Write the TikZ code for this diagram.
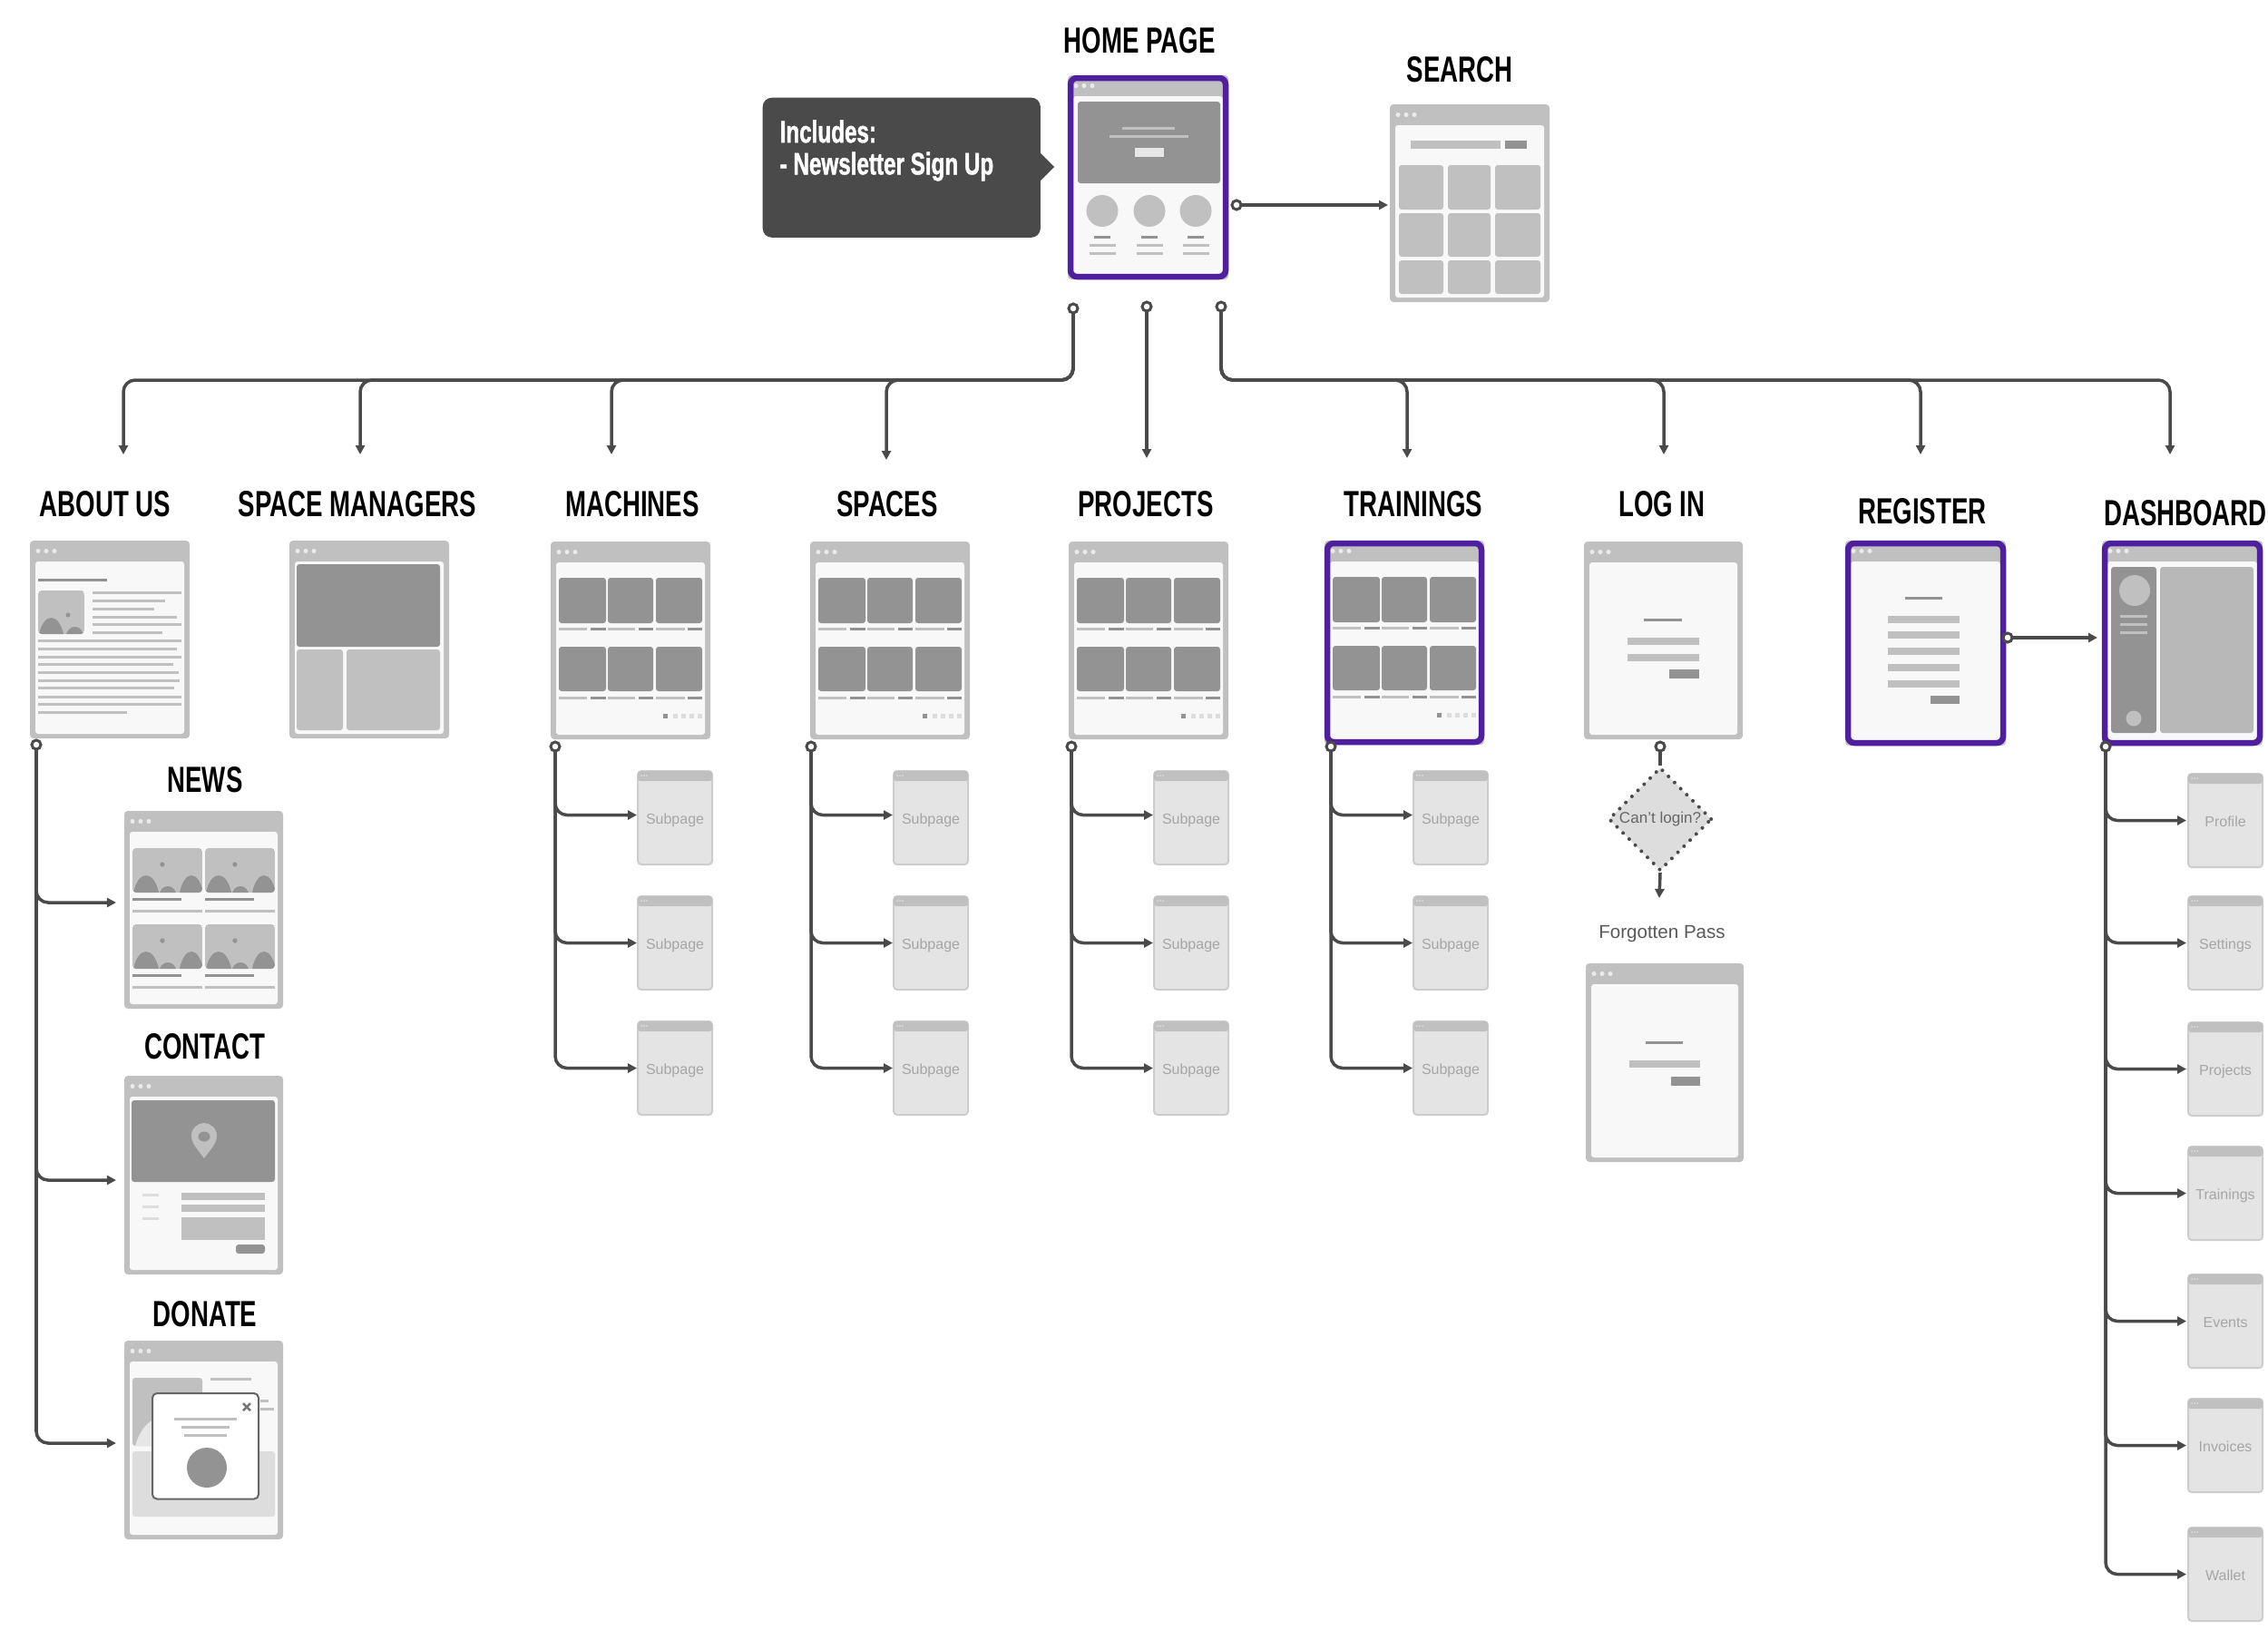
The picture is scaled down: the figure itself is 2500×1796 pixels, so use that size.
\documentclass[tikz,border=0pt]{standalone}
\usepackage{fontspec}
\setmainfont{Liberation Sans}
\newfontfamily\headfont[FakeStretch=0.69]{Liberation Sans}
\newfontfamily\notefont[FakeStretch=0.71,FakeBold=1.2]{Liberation Sans}
\usetikzlibrary{arrows.meta,shapes.geometric}
\definecolor{cf}{HTML}{C0C0C0}
\definecolor{cc}{HTML}{F8F8F8}
\definecolor{cd}{HTML}{939393}
\definecolor{cs}{HTML}{E4E4E4}
\definecolor{cl}{HTML}{DDDDDD}
\definecolor{cw}{HTML}{4A4A4A}
\definecolor{cp}{HTML}{4F1F9E}
\newcommand{\wbox}[5]{\fill[#5,rounded corners=.03cm] (#1,#2) rectangle (#3,#4);}
\newcommand{\wsq}[5]{\fill[#5] (#1,#2) rectangle (#3,#4);}
\newcommand{\wl}[4]{\fill[#4] ({#1},{#3-1.5}) rectangle ({#2},{#3+1.5});}
\newcommand{\hump}[4]{\fill[cd] ({#1},{#3}) .. controls ({#1+0.2*(#2-#1)},{#3-1.33*#4}) and ({#2-0.2*(#2-#1)},{#3-1.33*#4}) .. ({#2},{#3}) -- cycle;}
% window: name, x, y, w, h, content
\newcommand{\win}[6]{%
  \node[winf,anchor=north west,minimum width=#4*.01cm,minimum height=#5*.01cm] (#1) at (#2,#3) {};
  \begin{scope}[shift={(#2,#3)}]
    \wbox{6}{23}{{#4-6}}{{#5-5}}{cc}
    \foreach \dx in {9,18,27} {\fill[cl!60!white] (\dx,11.5) circle [radius=2.5];}
    #6
  \end{scope}}
% subpage: name, x, y, label
\newcommand{\subp}[4]{%
  \node[subf,anchor=north west] (#1) at (#2,#3) {\raisebox{-.07cm}[0pt][0pt]{\fontsize{4.55}{5}\selectfont\textcolor{black!35}{#4}}};
  \begin{scope}[shift={(#2,#3)}]
    \fill[cf,rounded corners=.03cm] (0,0) rectangle (82,11);
    \foreach \dx in {4,7,10} {\fill[cl] (\dx,5) circle [radius=1];}
  \end{scope}}
\newcommand{\cards}{%
  \foreach \a/\b/\c in {9/61/40,63/113/93,116/167/148}{
    \wbox{\a}{40}{\b}{90}{cd}\wbox{\a}{116}{\b}{165}{cd}
    \wl{\a}{\c}{96.5}{cf}\wl{\a}{\c}{172}{cf}}
  \wl{44}{61}{96.5}{cd}\wl{97}{113}{96.5}{cd}\wl{151}{167}{96.5}{cd}
  \wl{44}{61}{172}{cd}\wl{97}{113}{172}{cd}\wl{151}{167}{172}{cd}
  \wsq{123.5}{189.5}{128.5}{194.5}{cd}
  \foreach \dx in {137,146,155,164}{\wsq{{\dx-2.5}}{189.5}{{\dx+2.5}}{194.5}{cl}}}
\newcommand{\newsimg}[2]{%
  \begin{scope}[shift={(#1,#2)}]
    \begin{scope}
      \clip[rounded corners=.04cm] (0,0) rectangle (77,49);
      \fill[cf] (0,0) rectangle (77,49);
      \hump{1}{29}{49}{19}\hump{30}{48}{49}{7}\hump{52}{78}{49}{19}
      \fill[cd] (33,18) circle [radius=2.7];
    \end{scope}
    \wl{0}{54}{56}{cd}\wl{0}{77}{69}{cf}
  \end{scope}}
\tikzset{
  winf/.style={rectangle,fill=cf,rounded corners=.04cm,inner sep=0pt,outer sep=0pt},
  subf/.style={rectangle,fill=cs,draw=cf!80!white,line width=.02cm,rounded corners=.04cm,inner sep=0pt,outer sep=0pt,minimum width=.82cm,minimum height=1.03cm},
  pb/.style={draw=cp,line width=.065cm,rounded corners=.07cm},
  head/.style={inner sep=0pt,font=\headfont\bfseries\fontsize{11.4}{12}\selectfont},
  conn/.style={draw=cw,line width=.035cm,rounded corners=.13cm,-{Triangle[length=.1cm,width=.1cm]}},
  hub/.style={circle,draw=cw,fill=white,line width=.03cm,minimum size=.1cm,inner sep=0pt,outer sep=0pt},
}
\newcommand{\purp}[1]{\draw[pb] ([xshift=.03cm,yshift=-.03cm]#1.north west) rectangle ([xshift=-.03cm,yshift=.03cm]#1.south east);}
% branch: hub, target, y offset from target's west, gap before the target
\newcommand{\brn}[4]{\draw[conn] (#1.south) |- ([xshift=-#4,yshift=#3]#2.west);}
\begin{document}
\begin{tikzpicture}[x=0.01cm,y=-0.01cm]
\useasboundingbox (0,0) rectangle (2500,1796);
\fill[white] (0,0) rectangle (2500,1796);

% ---------- labels
\foreach \nm/\tx/\ax/\ay in {lHome/HOME PAGE/1256/45,lSearch/SEARCH/1609/77,lAbout/ABOUT US/116/556,lSM/SPACE MANAGERS/394/556,lMach/MACHINES/697/556,lSpaces/SPACES/978/556,lProj/PROJECTS/1263/556,lTrain/TRAININGS/1558/556,lLogin/LOG IN/1832/556,lReg/REGISTER/2119/564,lDash/DASHBOARD/2409/566,lNews/NEWS/226/860,lContact/CONTACT/226/1154,lDonate/DONATE/226/1449}{
  \node[head] (\nm) at (\ax,\ay) {\tx};
}

% ---------- callout
\node[rectangle,fill=cw,rounded corners=.1cm,anchor=north west,minimum width=3.06cm,minimum height=1.54cm,inner sep=0pt] (note) at (840,107) {};
\fill[cw] (1146,168) -- (1162,184) -- (1146,200) -- cycle;
\node[anchor=west,inner sep=0pt,text=white,align=left,font=\notefont\bfseries\fontsize{9.7}{10}\selectfont] (notetext) at (859,166) {Includes:\\- Newsletter Sign Up};

% ---------- home
\win{home}{1177}{83}{177}{225}{
  \wbox{11}{29}{168}{119}{cd}
  \wl{60}{118}{58}{cf}\wl{46}{133}{67}{cf}
  \wsq{74}{80}{106}{90}{cl!70!white}
  \foreach \cx in {38,90,141}{
    \fill[cf] (\cx,149.5) circle [radius=17.5];
    \wl{{\cx-9}}{{\cx+9}}{178}{cd}
    \wl{{\cx-14.5}}{{\cx+14.5}}{187}{cf}
    \wl{{\cx-14.5}}{{\cx+14.5}}{196}{cf}}
}
\purp{home}

% ---------- search
\win{search}{1532}{115}{176}{218}{
  \wsq{23}{40}{122}{49}{cf}\wsq{127}{40}{151}{49}{cd}
  \foreach \xa/\xb in {10/59,64/111,116/166}{
    \wbox{\xa}{67}{\xb}{116}{cf}\wbox{\xa}{120}{\xb}{168}{cf}\wbox{\xa}{172}{\xb}{209}{cf}}
}

% ---------- about
\win{about}{33}{596}{176}{218}{
  \wl{9}{85}{43}{cd}
  \begin{scope}[shift={(9,55)}]
    \clip[rounded corners=.04cm] (0,0) rectangle (51,48);
    \fill[cf] (0,0) rectangle (51,48);
    \hump{1}{28}{48}{18}\hump{31}{50}{48}{8}
    \fill[cd] (33,27) circle [radius=2.5];
  \end{scope}
  \foreach \yy/\xe in {57/167,66/149,75/137,84/162,92.5/167,101/146}{\wl{69}{\xe}{\yy}{cf}}
  \foreach \yy/\xe in {110/167,119/162,128/167,136/158,145/164,154/165,162/159,172/167,180/167,189/107}{\wl{9}{\xe}{\yy}{cf}}
}

% ---------- space managers
\win{sm}{319}{596}{176}{218}{
  \wbox{8}{26}{166}{117}{cd}
  \wbox{8}{120}{59}{209}{cf}
  \wbox{63}{120}{166}{209}{cf}
}

% ---------- news
\win{news}{137}{894}{175}{218}{
  \newsimg{9}{41}\newsimg{89}{41}\newsimg{9}{125}\newsimg{89}{125}
}

% ---------- contact
\win{contact}{137}{1186}{175}{219}{
  \wbox{8}{27}{166}{117}{cd}
  \fill[cf] (88,91) .. controls (81,81) and (74,75) .. (74,66) .. controls (74,58) and (81,52) .. (88,52) .. controls (95,52) and (102,58) .. (102,66) .. controls (102,75) and (95,81) .. (88,91) -- cycle;
  \fill[cd] (88,67) ellipse [x radius=6.5,y radius=5.5];
  \wl{20}{38}{131}{cl}\wl{20}{38}{144}{cl}\wl{20}{38}{157}{cl}
  \wsq{63}{129}{155}{137}{cf}\wsq{63}{142}{155}{150}{cf}\wsq{63}{156}{155}{181}{cf}
  \wbox{123}{186}{155}{196}{cd}
}

% ---------- donate
\win{donate}{137}{1478}{175}{219}{
  \wbox{9}{41}{86}{116}{cf}
  \fill[cl!70!white] (12,116) .. controls (18,95) and (30,84) .. (45,84) -- (45,116) -- cycle;
  \wl{95}{140}{42.5}{cf}
  \wl{150}{159}{66}{cf}\wl{150}{165}{75}{cf}
  \wbox{9}{122}{166}{194}{cl}
  \fill[white,draw=black!60,line width=.02cm,rounded corners=.05cm] (31,58) rectangle (148,174.5);
  \draw[black!55,line width=.025cm] (131,69) -- (139,77) (139,69) -- (131,77);
  \wl{55}{124}{86.5}{cf}\wl{63}{116}{95}{cf}\wl{66}{113}{104}{cf}
  \fill[cd] (91,140) ellipse [x radius=22,y radius=22];
}

% ---------- listing pages
\win{machines}{607}{597}{176}{218}{\cards}
\win{spaces}{893}{597}{176}{218}{\cards}
\win{projects}{1178}{597}{176}{218}{\cards}
\win{trainings}{1460}{596}{176}{225}{\cards}
\purp{trainings}

% ---------- log in
\win{login}{1746}{597}{175}{218}{
  \wl{66}{108}{86}{cd}
  \wsq{47.5}{106}{127}{114}{cf}\wsq{47.5}{124}{127}{132}{cf}
  \wsq{94}{141}{127}{151}{cd}
}
\win{forgot}{1748}{1062}{174}{219}{
  \wl{66}{107}{87}{cd}
  \wsq{47.5}{107}{126}{115}{cf}
  \wsq{94}{124.5}{126}{135}{cd}
}
\node[inner sep=0pt,text=black!65,font=\fontsize{5.85}{7}\selectfont] (lForgot) at (1832,1030) {Forgotten Pass};
\node[diamond,aspect=1,fill=cl,draw=cw,line width=.04cm,line cap=round,dash pattern=on 0pt off .095cm,minimum width=1.14cm,minimum height=1.14cm,inner sep=0pt,text=black!60,font=\fontsize{4.85}{6}\selectfont] (cant) at (1830,903) {Can't login?};

% ---------- register
\win{register}{2034}{596}{177}{226}{
  \wl{66}{107}{63}{cd}
  \foreach \yy in {87,104,122,140,158}{\wsq{47}{{\yy-4}}{126}{{\yy+4}}{cf}}
  \wsq{94}{171}{126}{180}{cd}
}
\purp{register}

% ---------- dashboard
\win{dashboard}{2317}{596}{177}{226}{
  \wbox{10}{29}{60}{212}{cd}
  \wbox{64}{29}{167}{212}{black!28}
  \fill[cf] (36,55) circle [radius=17];
  \wl{20}{50}{83}{cf}\wl{20}{50}{92}{cf}\wl{20}{50}{101}{cf}
  \fill[cf] (35,196) circle [radius=8.5];
}
\purp{dashboard}

% ---------- subpages
\foreach \pre/\xx in {ma/703,sp/985,pr/1272,tr/1558}{
  \subp{\pre1}{\xx}{850}{Subpage}
  \subp{\pre2}{\xx}{988}{Subpage}
  \subp{\pre3}{\xx}{1126}{Subpage}
}
\subp{d1}{2412}{853}{Profile}
\subp{d2}{2412}{988}{Settings}
\subp{d3}{2412}{1127}{Projects}
\subp{d4}{2412}{1264}{Trainings}
\subp{d5}{2412}{1405}{Events}
\subp{d6}{2412}{1542}{Invoices}
\subp{d7}{2412}{1684}{Wallet}

% ---------- hubs and free ends
\foreach \nm/\ax/\ay in {hL/1183/340,hM/1264/338,hR/1346/338,hS/1363/226,hA/40/821,hMa/612/823,hSp/894/823,hPr/1181/823,hTr/1467/823,hLo/1830/823,hRe/2213/703,hDa/2321/823}{
  \node[hub] (\nm) at (\ax,\ay) {};
}
\coordinate (bus) at (0,419);
\foreach \nm/\ax/\ay in {tA/136/501,tS/397/501,tM/674/501,tP/977/507,tC/1264/505,tT/1551/505,tL/1834/501,tR/2117/501,tD/2392/501,tFp/1829/990}{
  \coordinate (\nm) at (\ax,\ay);
}

% ---------- connectors
\draw[conn] (hS) -- ([xshift=-.02cm]search.west |- hS);
\draw[conn] (hM.south) -- (tC);
\foreach \tg in {tA,tS,tM,tP}{\draw[conn] (hL.south) -- (hL |- bus) -- (\tg |- bus) -- (\tg);}
\foreach \tg in {tT,tL,tR,tD}{\draw[conn] (hR.south) -- (hR |- bus) -- (\tg |- bus) -- (\tg);}
\brn{hA}{news}{.08cm}{.09cm}
\brn{hA}{contact}{-.055cm}{.09cm}
\brn{hA}{donate}{-.035cm}{.09cm}
\foreach \hb/\pre in {hMa/ma,hSp/sp,hPr/pr,hTr/tr}{
  \brn{\hb}{\pre1}{.03cm}{.01cm}
  \brn{\hb}{\pre2}{0cm}{.01cm}
  \brn{\hb}{\pre3}{0cm}{.01cm}
}
\draw[draw=cw,line width=.035cm] (hLo.south) -- (cant.north);
\draw[conn] (cant.south) -- (tFp);
\draw[conn] (hRe) -- ([xshift=-.05cm]dashboard.west |- hRe);
\brn{hDa}{d1}{0cm}{.02cm}
\brn{hDa}{d2}{0cm}{.02cm}
\brn{hDa}{d3}{0cm}{.02cm}
\brn{hDa}{d4}{0cm}{.02cm}
\brn{hDa}{d5}{0cm}{.02cm}
\brn{hDa}{d6}{0cm}{.02cm}
\brn{hDa}{d7}{0cm}{.02cm}
\end{tikzpicture}
\end{document}
